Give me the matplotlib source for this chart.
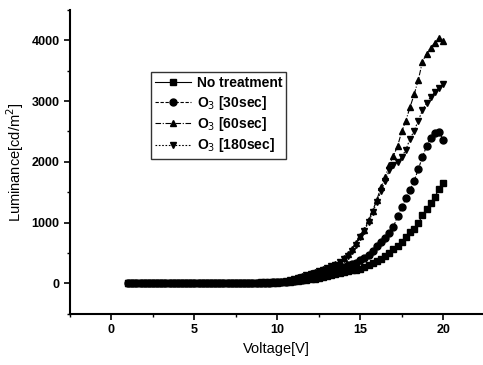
import numpy as np
import matplotlib
matplotlib.use("Agg")
import matplotlib.pyplot as plt
from matplotlib import font_manager
from matplotlib.ticker import MultipleLocator

plt.rcParams['font.family'] = ['Liberation Sans', 'DejaVu Sans']

# voltage grid, 0.25 V steps from 1 to 20 V
voltage = np.arange(1.0, 20.001, 0.25)

# luminance [cd/m2] (1.00 V .. 20.00 V)
lum_none = [0, 0, 0, 0, 0, 0, 0, 0, 1, 1, 1, 1, 2, 2, 2, 2,
            3, 3, 3, 4, 4, 5, 5, 6, 6, 7, 8, 9, 10, 11, 11, 12,
            13, 13, 14, 14, 15, 18, 22, 27, 33, 40, 50, 62, 72, 82, 95, 110,
            125, 140, 158, 175, 190, 200, 215, 228, 245, 270, 300, 335, 370, 410,
            455, 505, 560, 620, 690, 760, 840, 900, 990, 1120, 1220, 1320, 1430, 1550,
            1650]
lum_30 = [0, 0, 0, 0, 0, 0, 0, 0, 1, 1, 1, 1, 2, 2, 2, 2,
          3, 3, 3, 4, 4, 5, 5, 6, 6, 7, 8, 9, 10, 11, 12, 13,
          14, 15, 16, 17, 18, 22, 27, 33, 40, 50, 60, 75, 90, 110, 130, 150,
          175, 200, 225, 250, 275, 300, 320, 340, 380, 420, 465, 530, 610, 680,
          750, 830, 930, 1110, 1250, 1400, 1530, 1690, 1880, 2080, 2260, 2400, 2480, 2490,
          2360]
lum_60 = [0, 0, 0, 0, 0, 0, 0, 0, 1, 1, 1, 1, 2, 2, 2, 3,
          3, 4, 4, 5, 5, 6, 7, 8, 9, 10, 11, 12, 13, 14, 15, 16,
          17, 18, 19, 20, 20, 30, 40, 60, 80, 100, 120, 145, 170, 190, 210, 235,
          260, 290, 320, 360, 420, 480, 560, 660, 780, 880, 1040, 1200, 1380, 1580,
          1750, 1950, 2100, 2260, 2500, 2680, 2900, 3110, 3350, 3650, 3780, 3880, 3960, 4040,
          3980]
lum_180 = [0, 0, 0, 0, 0, 0, 0, 0, 1, 1, 1, 1, 2, 2, 2, 3,
           3, 4, 4, 5, 5, 6, 7, 8, 9, 10, 11, 12, 13, 14, 15, 16,
           17, 18, 19, 20, 20, 28, 38, 55, 75, 95, 115, 140, 160, 180, 200, 225,
           250, 280, 310, 350, 400, 460, 540, 640, 760, 870, 1010, 1170, 1340, 1520,
           1690, 1860, 1950, 2000, 2080, 2200, 2380, 2510, 2680, 2850, 2970, 3070, 3150, 3220,
           3280]

labels = ['No treatment', 'O$_3$ [30sec]', 'O$_3$ [60sec]', 'O$_3$ [180sec]']
markers = ['s', 'o', '^', 'v']
styles = ['-', (0, (3, 1.5)), (0, (5, 1.5, 1, 1.5)), (0, (1.5, 1.5))]

tick_font = font_manager.FontProperties(family=['Liberation Sans', 'DejaVu Sans'],
                                        weight='bold', size=9)
leg_font = font_manager.FontProperties(family=['Liberation Sans', 'DejaVu Sans'],
                                       weight='bold', size=10)

fig = plt.figure(figsize=(4.83, 3.65), dpi=100)
ax = fig.add_axes([0.145, 0.14, 0.855, 0.833])

for ys, lab, mk, ls in zip([lum_none, lum_30, lum_60, lum_180], labels, markers, styles):
    ax.plot(voltage, ys, color='black', linestyle=ls, linewidth=0.8,
            marker=mk, markersize=5, label=lab)

ax.set_xlim(-2.5, 22.4)
ax.set_ylim(-500, 4500)
ax.xaxis.set_major_locator(MultipleLocator(5))
ax.xaxis.set_minor_locator(MultipleLocator(2.5))
ax.yaxis.set_major_locator(MultipleLocator(1000))
ax.yaxis.set_minor_locator(MultipleLocator(500))
ax.tick_params(which='major', direction='out', length=4, width=1.2)
ax.tick_params(which='minor', direction='out', length=2.5, width=1)
for lab in ax.get_xticklabels() + ax.get_yticklabels():
    lab.set_fontproperties(tick_font)

ax.spines['top'].set_visible(False)
ax.spines['right'].set_visible(False)
ax.spines['left'].set_linewidth(1.5)
ax.spines['bottom'].set_linewidth(1.5)

ax.set_xlabel('Voltage[V]', fontsize=10.5)
ax.set_ylabel('Luminance[cd/m$^2$]', fontsize=10.5)

leg = ax.legend(loc='upper left', bbox_to_anchor=(0.196, 0.796), prop=leg_font,
                frameon=True, fancybox=False, borderaxespad=0,
                handlelength=2.6, borderpad=0.3, labelspacing=0.25, handletextpad=0.4)
leg.get_frame().set_edgecolor('black')
leg.get_frame().set_linewidth(1.0)

fig.savefig('out.png', dpi=100)
